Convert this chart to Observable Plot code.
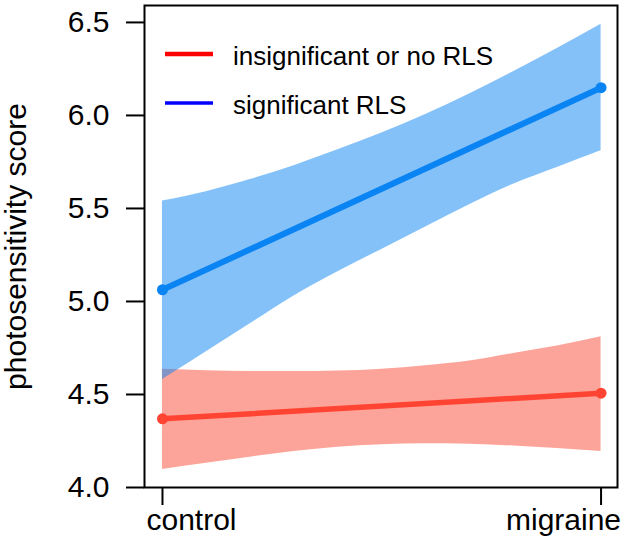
<!DOCTYPE html>
<html>
<head>
<meta charset="utf-8">
<script src="https://cdn.jsdelivr.net/npm/d3@7"></script>
<script src="https://cdn.jsdelivr.net/npm/@observablehq/plot@0.6"></script>
<style>
  html, body { margin: 0; padding: 0; background: white; }
  #chart { width: 624px; height: 540px; }
</style>
</head>
<body>
<div id="chart"></div>
<script>
// Categories on the x axis (control = 0, migraine = 1)
const categories = ["control", "migraine"];
const catPos = [0, 1];

// Fitted group means
const redMeans = [4.369, 4.507];   // insignificant or no RLS
const blueMeans = [5.063, 6.149];  // significant RLS

// Confidence band, read along the x axis
const bandX = [0, 0.1, 0.2, 0.3, 0.4, 0.5, 0.6, 0.7, 0.8, 0.9, 1];
const blueUpper = [5.54, 5.59, 5.655, 5.73, 5.815, 5.905, 6.005, 6.115, 6.235, 6.36, 6.49];
const blueLower = [4.58, 4.73, 4.88, 5.03, 5.16, 5.28, 5.40, 5.52, 5.63, 5.72, 5.81];
const redUpper = [4.635, 4.628, 4.624, 4.623, 4.626, 4.636, 4.655, 4.68, 4.72, 4.76, 4.81];
const redLower = [4.097, 4.13, 4.163, 4.193, 4.216, 4.23, 4.235, 4.233, 4.223, 4.21, 4.194];

const yTicks = [4.0, 4.5, 5.0, 5.5, 6.0, 6.5];
const legendLabels = ["insignificant or no RLS", "significant RLS"];

const blueBand = bandX.map((x, i) => ({x, lo: blueLower[i], hi: blueUpper[i]}));
const redBand = bandX.map((x, i) => ({x, lo: redLower[i], hi: redUpper[i]}));
const blueLine = catPos.map((x, i) => ({x, y: blueMeans[i]}));
const redLine = catPos.map((x, i) => ({x, y: redMeans[i]}));

const RED_LINE = "#FF4433", BLUE_LINE = "#0A84F3";

const plot = Plot.plot({
  width: 624,
  height: 540,
  marginLeft: 144,
  marginRight: 7,
  marginTop: 5,
  marginBottom: 53,
  style: {fontFamily: "'Liberation Sans', Arial, sans-serif", fontSize: "30px", color: "black", background: "white"},
  x: {domain: [-0.041, 1.0375]},
  y: {domain: [4, 6.591]},
  marks: [
    Plot.areaY(redBand, {x: "x", y1: "lo", y2: "hi", fill: "#FCA499", curve: "monotone-x"}),
    Plot.areaY(blueBand, {x: "x", y1: "lo", y2: "hi", fill: BLUE_LINE, fillOpacity: 0.5, curve: "monotone-x"}),
    Plot.line(redLine, {x: "x", y: "y", stroke: RED_LINE, strokeWidth: 5.5}),
    Plot.dot(redLine, {x: "x", y: "y", r: 5.5, fill: RED_LINE}),
    Plot.line(blueLine, {x: "x", y: "y", stroke: BLUE_LINE, strokeWidth: 6}),
    Plot.dot(blueLine, {x: "x", y: "y", r: 5.5, fill: BLUE_LINE}),
    Plot.frame({stroke: "black", strokeWidth: 2}),
    Plot.axisY({
      ticks: yTicks, tickFormat: d3.format(".1f"), tickSize: 18, tickPadding: 17,
      strokeWidth: 2, fontSize: 30,
      label: "photosensitivity score", labelAnchor: "center", labelArrow: "none", labelOffset: 140
    }),
    // tick marks only
    Plot.axisX({ticks: catPos, tickFormat: () => "", tickSize: 18, strokeWidth: 2, label: null}),
    // tick labels, shifted as in the original figure
    Plot.axisX({
      ticks: [catPos[0]], tickFormat: () => categories[0], tickSize: 0, tickPadding: 21,
      fontSize: 30, textAnchor: "start", dx: -16, label: null
    }),
    Plot.axisX({
      ticks: [catPos[1]], tickFormat: () => categories[1], tickSize: 0, tickPadding: 21,
      fontSize: 30, textAnchor: "end", dx: 20, label: null
    })
  ]
});

// Legend inside the plot frame
const svg = d3.select(plot);
const leg = svg.append("g")
  .attr("font-family", "'Liberation Sans', Arial, sans-serif")
  .attr("font-size", 26)
  .attr("text-anchor", "start");
const legColors = ["#FF0000", "#0000FF"];
const legWidths = [4.5, 3.5];
const legY = [54, 103];
legendLabels.forEach((lab, i) => {
  leg.append("line").attr("x1", 165).attr("x2", 213).attr("y1", legY[i]).attr("y2", legY[i])
    .attr("stroke", legColors[i]).attr("stroke-width", legWidths[i]);
  leg.append("text").attr("x", 233).attr("y", legY[i] + 11).attr("fill", "black")
    .attr("text-anchor", "start").text(lab);
});

document.getElementById("chart").appendChild(plot);
</script>
</body>
</html>
